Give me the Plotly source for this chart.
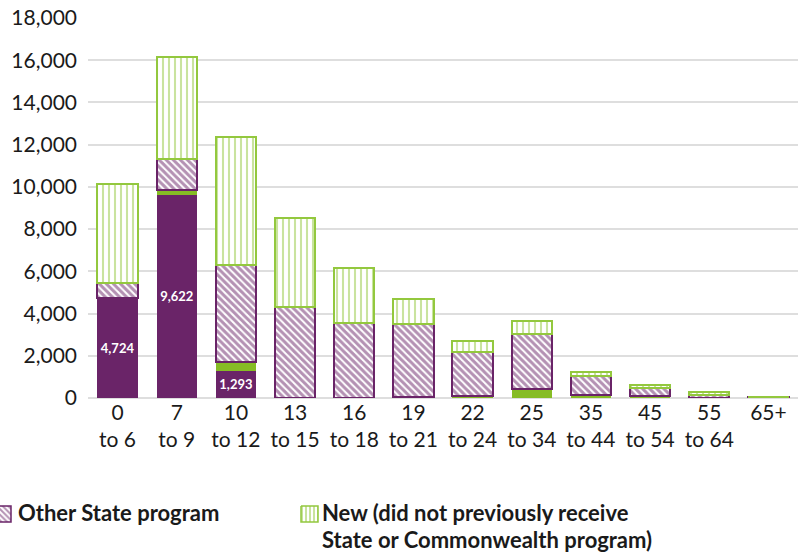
import plotly.graph_objects as go

# Age groups on the x axis
age_groups = ["0<br>to 6", "7<br>to 9", "10<br>to 12", "13<br>to 15", "16<br>to 18",
              "19<br>to 21", "22<br>to 24", "25<br>to 34", "35<br>to 44", "45<br>to 54",
              "55<br>to 64", "65+"]

# Stacked segments (number of people)
same_program = [4724, 9622, 1293, 0, 0, 0, 0, 0, 0, 0, 0, 0]
commonwealth_program = [0, 230, 420, 0, 0, 60, 100, 420, 120, 75, 20, 0]
other_state_program = [700, 1470, 4590, 4330, 3540, 3430, 2095, 2610, 935, 390, 100, 40]
new_recipients = [4720, 4820, 6050, 4190, 2630, 1200, 505, 615, 190, 150, 150, 0]

y_ticks = [0, 2000, 4000, 6000, 8000, 10000, 12000, 14000, 16000, 18000]

PURPLE = "#6a2468"
GREEN = "#86bc25"
GREEN_LINE = "#93c83e"
FONT = "Lato"
W, H = 798, 556

fig = go.Figure()

fig.add_trace(go.Bar(
    x=age_groups, y=same_program, name="Same State program",
    marker=dict(color=PURPLE, line=dict(width=0)),
    text=[f"{v:,}" if v > 1000 else "" for v in same_program],
    textposition="inside", insidetextanchor="middle",
    textfont=dict(family=FONT, size=13, color="white", weight="bold"),
    showlegend=False,
))
fig.add_trace(go.Bar(
    x=age_groups, y=commonwealth_program, name="Commonwealth program",
    marker=dict(color=GREEN, line=dict(width=0)),
    showlegend=False,
))
fig.add_trace(go.Bar(
    x=age_groups, y=other_state_program, name="Other State program",
    marker=dict(color="white", line=dict(color=PURPLE, width=2),
                pattern=dict(shape="\\", fgcolor=PURPLE, bgcolor="white",
                             size=5, solidity=0.6)),
    showlegend=False,
))
fig.add_trace(go.Bar(
    x=age_groups, y=new_recipients, name="New",
    marker=dict(color="white", line=dict(color=GREEN_LINE, width=2),
                pattern=dict(shape="|", fgcolor=GREEN_LINE, bgcolor="white",
                             size=6, solidity=0.35)),
    showlegend=False,
))

# Legend swatches, drawn on a pixel-space overlay axis
def swatch(x0, y0, w, h, shape, color):
    fig.add_trace(go.Scatter(
        x=[x0, x0 + w, x0 + w, x0, x0], y=[y0, y0, y0 + h, y0 + h, y0],
        xaxis="x2", yaxis="y2", mode="lines", fill="toself",
        line=dict(color=color, width=1.5), fillcolor="white",
        fillpattern=dict(shape=shape, fgcolor=color, bgcolor="white", size=4, solidity=0.5),
        hoverinfo="skip", showlegend=False,
    ))

swatch(-6, 506, 17, 16, "\\", PURPLE)
swatch(301, 506, 17, 16, "|", GREEN_LINE)

legend_font = dict(family=FONT, size=22, color="#1a1a1a", weight="bold")
legend_lines = [
    (17, 512, "Other State program"),
    (321, 512, "New (did not previously receive"),
    (321, 539, "State or Commonwealth program)"),
]
for lx, ly, txt in legend_lines:
    fig.add_annotation(x=lx, y=ly, xref="x2", yref="y2", text=txt,
                       showarrow=False, xanchor="left", yanchor="middle",
                       borderpad=0, font=legend_font)

fig.update_layout(
    width=W, height=H,
    margin=dict(l=0, r=0, t=0, b=0, pad=0, autoexpand=False),
    paper_bgcolor="white", plot_bgcolor="rgba(0,0,0,0)",
    barmode="stack", bargap=0.32,
    font=dict(family=FONT, color="#1a1a1a"),
    xaxis=dict(domain=[88 / W, 1.0], range=[-0.5, 11.5], showgrid=False, automargin=False,
               showline=False, ticks="", tickfont=dict(family=FONT, size=21, color="#1a1a1a")),
    yaxis=dict(domain=[(H - 398) / H, (H - 18) / H], range=[0, 18000], automargin=False,
               tickvals=y_ticks, ticktext=[f"{v:,}" for v in y_ticks],
               showgrid=True, gridcolor="#dedede", gridwidth=2,
               zeroline=True, zerolinecolor="#dedede", zerolinewidth=2,
               showline=False, ticks="", ticklabelstandoff=10,
               tickfont=dict(family=FONT, size=21, color="#1a1a1a")),
    xaxis2=dict(domain=[0, 1], range=[0, W], visible=False, anchor="y2",
                fixedrange=True, automargin=False),
    yaxis2=dict(domain=[0, 1], range=[H, 0], visible=False, anchor="x2",
                fixedrange=True, automargin=False),
)

fig.write_html("out.html")
